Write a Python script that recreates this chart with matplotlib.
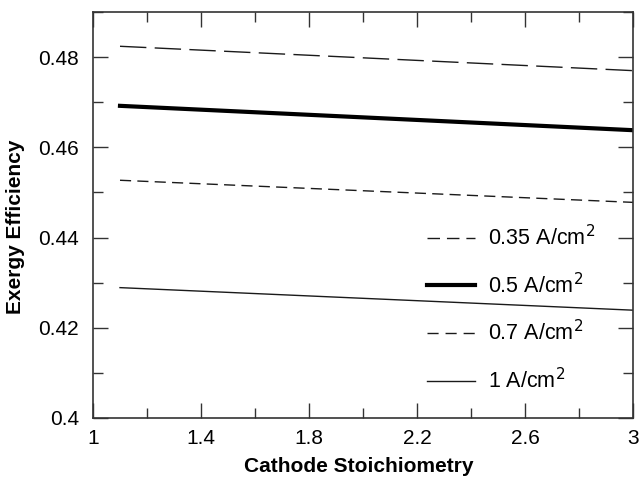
import matplotlib.pyplot as plt
from matplotlib.ticker import MultipleLocator
from matplotlib.lines import Line2D

plt.rcParams['font.family'] = ['Liberation Sans', 'DejaVu Sans']

# Cathode stoichiometry (x) and exergy efficiency for each current density
stoich = [1.1, 3.0]
eff_035 = [0.4824, 0.4770]
eff_05 = [0.4692, 0.4638]
eff_07 = [0.4527, 0.4478]
eff_1 = [0.4289, 0.4239]
labels = ['0.35 A/cm$^2$', '0.5 A/cm$^2$', '0.7 A/cm$^2$', '1 A/cm$^2$']
xticks = [1, 1.4, 1.8, 2.2, 2.6, 3]
xticklabels = ['1', '1.4', '1.8', '2.2', '2.6', '3']
yticks = [0.4, 0.42, 0.44, 0.46, 0.48]
yticklabels = ['0.4', '0.42', '0.44', '0.46', '0.48']

fig = plt.figure(figsize=(6.39, 4.78), dpi=100)
ax = fig.add_axes([93/639, 1 - 418/478, 540/639, 406/478])

ax.plot(stoich, eff_035, color='#1a1a1a', lw=1.0, dashes=(19, 6))
ax.plot(stoich, eff_05, color='black', lw=3.0)
ax.plot(stoich, eff_07, color='#1a1a1a', lw=1.0, dashes=(8, 4.5))
ax.plot(stoich, eff_1, color='#1a1a1a', lw=1.0)

ax.set_xlim(1, 3)
ax.set_ylim(0.4, 0.49)
ax.xaxis.set_minor_locator(MultipleLocator(0.2))
ax.yaxis.set_minor_locator(MultipleLocator(0.01))
ax.set_xticks(xticks)
ax.set_xticklabels(xticklabels)
ax.set_yticks(yticks)
ax.set_yticklabels(yticklabels)

ax.tick_params(which='both', direction='in', top=True, right=True,
               labelsize=15, width=1, color='#333333')
ax.tick_params(which='major', length=11)
ax.tick_params(which='minor', length=7)
ax.tick_params(axis='x', which='major', pad=8)
ax.tick_params(axis='y', which='major', pad=10)
for s in ax.spines.values():
    s.set_linewidth(1.2)
    s.set_color('#333333')

ax.set_xlabel('Cathode Stoichiometry', fontsize=15, fontweight='bold')
ax.set_ylabel('Exergy Efficiency', fontsize=15, fontweight='bold')
ax.xaxis.set_label_coords(0.493, -0.095)
ax.yaxis.set_label_coords(-0.125, 0.47)

# legend handles use a shorter dash than the plotted lines
handles = [
    Line2D([], [], color='#1a1a1a', lw=1.0, dashes=(9, 5)),
    Line2D([], [], color='black', lw=3.0),
    Line2D([], [], color='#1a1a1a', lw=1.0, dashes=(8, 5)),
    Line2D([], [], color='#1a1a1a', lw=1.0),
]
ax.legend(handles, labels, loc='center left', bbox_to_anchor=(0.6185, 0.268),
          frameon=False, fontsize=15.5, handlelength=2.23, labelspacing=1.05,
          handletextpad=0.6, borderpad=0, borderaxespad=0)

fig.savefig('out.png', dpi=100)
